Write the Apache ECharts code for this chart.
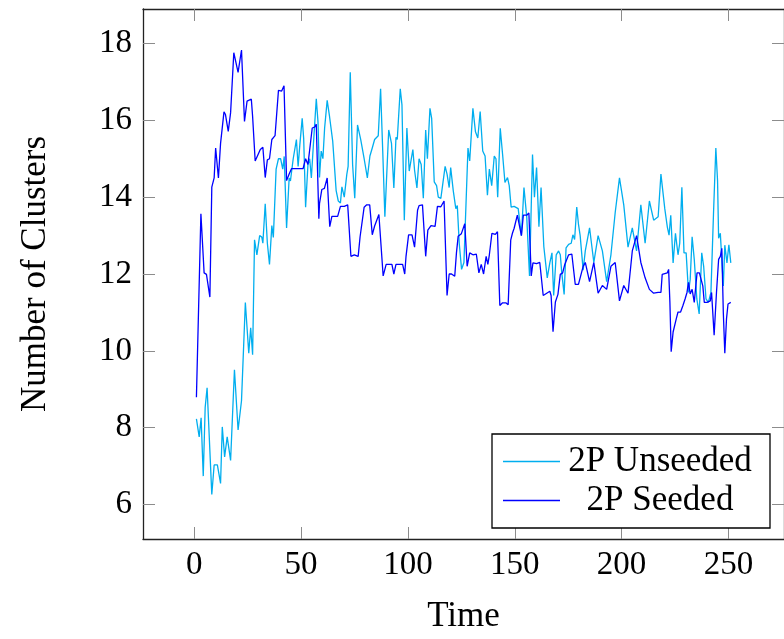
<!DOCTYPE html>
<html>
<head>
<meta charset="utf-8">
<script src="https://cdn.jsdelivr.net/npm/echarts@6/dist/echarts.min.js"></script>
<style>
html,body{margin:0;padding:0;background:#fff;}
#chart{width:784px;height:639px;}
</style>
</head>
<body>
<div id="chart"></div>
<script>
// ---- data (time, number of clusters) ----
const unseeded = [
[1.0,8.23],[2.3,7.76],[3.2,8.26],[4.2,6.74],[5.1,8.53],[6.0,9.04],[8.2,6.26],[9.3,7.03],[10.8,7.03],[11.3,6.98],
[12.3,6.55],[13.1,8.02],[14.2,7.24],[15.4,7.76],[17.0,7.15],[18.8,9.51],[20.5,7.94],[22.1,8.7],[23.9,11.26],[25.5,9.94],
[26.4,10.6],[27.3,9.9],[28.2,12.89],[29.3,12.5],[30.6,13.0],[31.6,12.96],[32.1,12.8],[33.2,13.83],[34.2,12.8],[35.2,12.25],
[36.3,13.26],[37.0,12.95],[38.3,14.73],[39.4,15.0],[40.4,15.0],[41.4,14.73],[42.1,15.06],[43.2,13.2],[44.4,14.5],[45.0,14.42],
[46.3,15.0],[47.0,15.0],[47.8,15.5],[48.6,14.8],[49.4,15.36],[50.5,16.05],[51.2,15.53],[52.1,13.74],[53.2,14.85],[54.0,15.0],
[54.8,14.5],[55.6,15.24],[57.1,16.56],[57.9,15.96],[58.6,14.51],[59.4,15.2],[60.2,15.0],[61.0,15.8],[62.2,16.52],[63.3,16.1],
[64.8,15.45],[66.4,14.17],[67.4,13.9],[68.4,13.85],[69.1,14.27],[70.2,14.0],[71.4,14.6],[72.0,14.8],[73.0,17.25],[74.1,14.85],
[75.1,13.97],[76.4,15.88],[77.9,15.5],[79.5,15.0],[81.0,14.5],[82.2,15.07],[83.3,15.28],[84.4,15.5],[85.3,15.5],[86.1,15.6],
[87.2,16.82],[88.2,15.2],[89.2,13.49],[91.0,15.75],[92.3,15.4],[93.4,14.24],[94.4,15.56],[95.0,15.5],[96.4,16.82],[97.2,16.4],
[98.3,13.4],[99.5,15.8],[100.6,14.68],[101.5,14.72],[102.3,15.24],[103.1,14.7],[104.2,14.24],[105.2,15.0],[106.2,14.85],[107.2,13.97],
[108.3,15.75],[109.1,15.0],[110.3,16.31],[111.1,16.05],[112.3,14.4],[113.4,14.3],[114.2,14.0],[115.4,13.97],[116.0,13.97],[117.4,14.8],
[118.3,14.6],[119.3,14.25],[120.0,14.77],[121.2,14.17],[122.4,13.7],[123.1,13.78],[124.0,12.8],[125.1,12.12],[126.2,12.3],[127.1,12.3],
[128.1,15.28],[128.9,14.94],[130.4,16.31],[131.6,15.7],[132.7,15.54],[133.8,16.23],[135.0,15.2],[136.1,15.07],[137.2,14.05],[138.1,14.73],
[139.2,14.3],[140.4,15.07],[141.2,15.0],[142.0,14.0],[143.2,15.79],[144.3,15.11],[145.4,14.38],[146.6,14.51],[147.4,14.3],[148.3,13.74],
[149.7,13.76],[150.5,13.74],[151.6,13.7],[153.1,13.0],[154.3,14.25],[155.6,13.48],[156.9,11.95],[158.3,15.11],[159.2,14.0],[160.2,14.77],
[161.3,13.23],[162.3,14.25],[163.6,12.71],[165.2,11.9],[166.4,12.29],[167.4,12.55],[168.2,11.44],[169.4,12.5],[170.5,12.6],[171.3,12.5],
[172.0,12.03],[173.1,11.47],[174.0,12.68],[175.2,12.77],[176.4,12.8],[177.2,13.02],[178.0,12.9],[179.0,13.74],[179.8,13.3],[180.6,13.0],
[182,12.1],[183,12.6],[185,13.2],[187,12.3],[189,13.0],[191,12.6],[193,11.8],[195,12.5],[197,13.6],[199,14.5],
[201,13.8],[203,12.7],[205,13.2],[207,12.6],[209,13.8],[211,12.8],[213,13.9],[215,13.4],
[217.1,13.49],[218.4,14.6],[219.0,14.56],[220.2,13.7],[221.4,13.22],[222.2,13.01],[223.0,13.53],[224.1,12.29],[225.2,13.06],[226.4,12.5],
[227.2,12.8],[228.2,14.26],[229.2,12.55],[230.2,12.55],[231.3,11.52],[232.1,11.86],[233.0,12.97],[234.0,12.38],[235.2,11.35],[236.3,10.96],
[237.5,12.55],[238.4,12.2],[239.5,11.35],[240.6,11.26],[241.8,11.52],[243.0,13.56],[244.1,15.28],[244.9,14.43],[245.4,12.93],[246.2,13.06],
[246.8,12.46],[247.6,11.69],[248.3,12.75],[249.3,12.29],[250.2,12.76],[251.1,12.29]
];
const seeded = [
[1.0,8.79],[3.1,13.57],[4.6,12.03],[5.7,11.99],[6.4,12.03],[7.3,11.4],[8.2,14.26],[9.3,14.5],[10.0,15.28],[11.3,14.5],
[12.3,15.4],[13.9,16.22],[14.6,16.15],[15.9,15.71],[17.0,16.2],[18.5,17.76],[20.5,17.25],[22.1,17.83],[23.5,15.97],[24.7,16.5],
[26.7,16.55],[27.3,16.1],[28.5,14.94],[30.9,15.24],[32.1,15.3],[33.2,14.51],[34.2,14.97],[35.2,15.0],[36.3,15.5],[37.0,15.52],
[37.8,15.6],[39.4,16.78],[40.9,16.76],[42.0,16.9],[43.2,14.43],[44.4,14.6],[45.5,14.74],[50.9,14.74],[52.1,15.0],[53.2,14.85],
[54.3,15.37],[55.2,15.8],[56.3,15.82],[57.1,15.9],[58.3,13.44],[58.6,13.83],[59.7,14.2],[60.9,14.23],[62.2,14.5],[63.4,13.23],
[64.4,13.5],[65.9,13.5],[67.1,13.5],[68.4,13.76],[70.2,13.76],[71.8,13.8],[73.3,12.46],[74.9,12.5],[76.7,12.46],[77.6,12.97],
[79.5,13.74],[80.7,13.8],[82.1,13.8],[83.3,13.02],[84.4,13.25],[85.3,13.27],[86.4,13.55],[87.2,13.55],[88.4,11.95],[89.8,12.25],
[91.4,12.25],[92.5,12.25],[93.4,12.0],[94.4,12.25],[96.4,12.25],[97.5,12.25],[98.5,12.0],[99.1,12.46],[100.3,13.02],[101.9,13.02],
[103.1,12.7],[104.5,13.66],[105.2,13.78],[106.8,13.8],[107.2,13.85],[108.3,12.46],[109.3,13.14],[110.8,13.26],[112.7,13.24],[113.8,13.76],
[115.4,13.75],[116.9,13.9],[118.3,11.44],[119.3,12.0],[120.4,12.0],[121.9,11.94],[122.7,12.55],[123.5,12.98],[125.0,13.05],[126.6,13.31],
[127.7,12.2],[128.9,12.55],[130.4,12.5],[132.0,12.52],[133.2,12.03],[134.3,12.25],[135.4,12.0],[136.6,12.46],[137.4,12.25],[138.1,12.5],
[139.3,13.06],[140.9,13.03],[141.9,13.1],[143.0,11.18],[144.3,11.25],[145.8,11.25],[146.9,11.2],[148.1,12.88],[148.9,13.06],[149.7,13.19],
[151.2,13.53],[152.0,13.5],[153.1,13.0],[154.0,13.53],[155.6,13.53],[156.6,13.59],[157.7,11.95],[158.5,12.29],[160.2,12.27],[161.7,12.3],
[163.3,11.44],[164.4,11.48],[165.2,11.5],[166.4,11.55],[167.0,11.44],[167.9,10.5],[169.0,11.27],[170.2,11.47],[171.3,11.99],[172.4,12.03],
[173.4,12.25],[174.1,12.29],[175.2,12.5],[176.7,12.52],[178.3,11.73],[179.8,11.73],[180.6,11.77],
[182,12.2],[183,12.3],[185,11.8],[187,12.3],[189,11.5],[191,11.7],[193,11.6],[195,12.2],[197,12.3],[199,11.3],
[201,11.7],[203,11.5],[205,12.6],[207,13.0],[209,12.3],[211,11.9],[213,11.6],[215,11.5],
[217.1,11.52],[218.4,11.52],[219.0,11.99],[219.9,12.03],[221.4,12.03],[222.0,12.12],[222.6,11.26],[223.2,9.98],[224.1,10.49],[224.8,10.49],
[225.6,10.84],[226.4,11.01],[227.6,11.01],[228.7,11.18],[229.7,11.35],[230.6,11.52],[231.3,11.78],[232.1,11.48],[233.0,11.6],[234.0,11.26],
[235.3,12.03],[236.4,12.03],[237.2,12.03],[238.0,11.69],[238.7,11.26],[240.0,11.26],[241.5,11.3],[242.1,11.52],[243.3,10.41],[244.4,11.52],
[245.4,12.38],[246.2,12.46],[246.9,12.67],[247.6,11.0],[248.3,9.94],[249.1,10.84],[249.8,11.22],[251.1,11.26]
];
const xTicks = [0, 50, 100, 150, 200, 250];
const yTicks = [6, 8, 10, 12, 14, 16, 18];
const seriesNames = ['2P Unseeded', '2P Seeded'];
const seriesColors = ['#00AEEF', '#0000FF'];

// ---- styles ----
const FONT = 'Liberation Serif';
const labelSize = 33;
const nameSize = 35;
const frameLine = {show: true, onZero: false, lineStyle: {color: '#222', width: 1.3}};
const tickStyle = {show: true, inside: true, length: 12, lineStyle: {color: '#8c8c8c', width: 1}};

const chart = echarts.init(document.getElementById('chart'), null, {renderer: 'canvas'});
chart.setOption({
  animation: false,
  backgroundColor: '#fff',
  grid: {left: 143, top: 9, width: 648, height: 538, containLabel: false},
  xAxis: [
    {type: 'value', min: -24, max: 276, position: 'bottom',
     name: 'Time', nameLocation: 'middle', nameGap: 60,
     nameTextStyle: {fontFamily: FONT, fontSize: nameSize, color: '#000'},
     axisLine: frameLine, splitLine: {show: false},
     axisTick: Object.assign({customValues: xTicks}, tickStyle),
     axisLabel: {customValues: xTicks, margin: 10, fontFamily: FONT, fontSize: labelSize, color: '#000'}},
    {type: 'value', min: -24, max: 276, position: 'top',
     axisLine: frameLine, splitLine: {show: false},
     axisTick: Object.assign({customValues: xTicks}, tickStyle),
     axisLabel: {show: false}}
  ],
  yAxis: [
    {type: 'value', min: 5.103, max: 18.897, position: 'left',
     name: 'Number of Clusters', nameLocation: 'middle', nameGap: 90,
     nameTextStyle: {fontFamily: FONT, fontSize: nameSize, color: '#000'},
     axisLine: frameLine, splitLine: {show: false},
     axisTick: Object.assign({customValues: yTicks}, tickStyle),
     axisLabel: {customValues: yTicks, margin: 11, fontFamily: FONT, fontSize: labelSize, color: '#000'}},
    {type: 'value', min: 5.103, max: 18.897, position: 'right',
     axisLine: frameLine, splitLine: {show: false},
     axisTick: Object.assign({customValues: yTicks}, tickStyle),
     axisLabel: {show: false}}
  ],
  legend: {
    orient: 'vertical', left: 492, top: 434,
    data: seriesNames,
    icon: 'rect', itemWidth: 57, itemHeight: 1.4,
    backgroundColor: '#fff', borderColor: '#000', borderWidth: 1.3, borderRadius: 0,
    padding: [10, 15, 10, 11], itemGap: 4,
    formatter: '{c|{name}}',
    textStyle: {rich: {c: {width: 190, align: 'center', fontFamily: FONT, fontSize: nameSize, lineHeight: 36, color: '#000'}}}
  },
  series: [
    {name: seriesNames[0], type: 'line', data: unseeded, symbol: 'none', color: seriesColors[0],
     lineStyle: {width: 1.3, color: seriesColors[0]}, xAxisIndex: 0, yAxisIndex: 0, z: 2},
    {name: seriesNames[1], type: 'line', data: seeded, symbol: 'none', color: seriesColors[1],
     lineStyle: {width: 1.3, color: seriesColors[1]}, xAxisIndex: 0, yAxisIndex: 0, z: 3}
  ]
});
</script>
</body>
</html>
